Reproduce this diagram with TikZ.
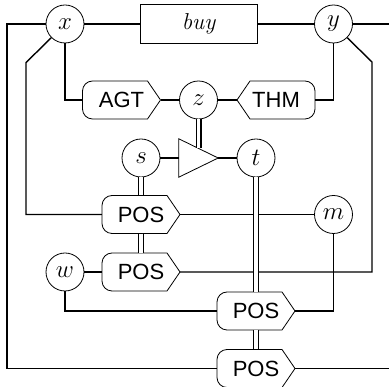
\documentclass[tikz,border=0pt]{standalone}
\usepackage{fontspec}
\newfontfamily\labfont{Liberation Sans}
\newcommand\chevR[1]{\draw[outl] ([shift={(-29,-19)}]#1.center) -- ([shift={(26,-19)}]#1.center) -- ([shift={(39,0)}]#1.center) -- ([shift={(26,19)}]#1.center) -- ([shift={(-29,19)}]#1.center) .. controls ([shift={(-34.5,19)}]#1.center) and ([shift={(-39,14.5)}]#1.center) .. ([shift={(-39,9)}]#1.center) -- ([shift={(-39,-9)}]#1.center) .. controls ([shift={(-39,-14.5)}]#1.center) and ([shift={(-34.5,-19)}]#1.center) .. ([shift={(-29,-19)}]#1.center) -- cycle;}
\newcommand\chevL[1]{\draw[outl] ([shift={(29,-19)}]#1.center) -- ([shift={(-26,-19)}]#1.center) -- ([shift={(-39,0)}]#1.center) -- ([shift={(-26,19)}]#1.center) -- ([shift={(29,19)}]#1.center) .. controls ([shift={(34.5,19)}]#1.center) and ([shift={(39,14.5)}]#1.center) .. ([shift={(39,9)}]#1.center) -- ([shift={(39,-9)}]#1.center) .. controls ([shift={(39,-14.5)}]#1.center) and ([shift={(34.5,-19)}]#1.center) .. ([shift={(29,-19)}]#1.center) -- cycle;}
\begin{document}
\begin{tikzpicture}[x=1pt,y=-1pt,
  conn/.style={line width=1.4pt},
  dbl/.style={double, double distance=3.8pt, line width=1.1pt},
  outl/.style={line width=0.8pt},
  var/.style={circle, draw, line width=0.8pt, minimum size=38pt, inner sep=0pt, font=\fontsize{25}{25}\selectfont},
  rel/.style={minimum width=78pt, minimum height=38pt, inner sep=0pt, font=\labfont\fontsize{22}{22}\selectfont},
]
\useasboundingbox (0,0) rectangle (389,387);
% nodes
\node[var] (x) at (65,24) {$x$};
\node[draw, line width=0.8pt, minimum width=117pt, minimum height=38.5pt, inner sep=0pt, font=\fontsize{23}{23}\selectfont\itshape] (buy) at (198.5,24) {buy};
\node[var] (y) at (333.5,24) {$y$};
\node[rel] (agt) at (121.5,100) {AGT};
\node[var] (z) at (198.5,100) {$z$};
\node[rel] (thm) at (276,100) {THM};
\node[var] (s) at (141,158) {$s$};
\node[minimum width=39pt, minimum height=38pt, inner sep=0pt] (tri) at (198.5,158) {};
\node[var] (t) at (256,158) {$t$};
\node[rel] (pos1) at (141,214.5) {POS};
\node[var] (m) at (333.5,214.5) {$m$};
\node[var] (w) at (65,272) {$w$};
\node[rel] (pos2) at (141,272) {POS};
\node[rel] (pos3) at (256,311) {POS};
\node[rel] (pos4) at (256,368.5) {POS};
\coordinate (tritop) at (198.5,148.5);
\coordinate (outA) at (389,24);
\coordinate (outB) at (389,368.5);
% shapes
\chevR{agt}
\chevL{thm}
\chevR{pos1}
\chevR{pos2}
\chevR{pos3}
\chevR{pos4}
\draw[outl] (tri.north west) -- (tri.east) -- (tri.south west) -- cycle;
% connectors
\draw[conn] (x) -- (buy) -- (y);
\draw[conn] (y.east) -- (outA);
\draw[conn] (y.south east) -- (372,62) |- (pos2.east);
\draw[conn] (x.west) -- (7,24) |- (pos4.west);
\draw[conn] (x.south west) -- (26,62.6) |- (pos1.west);
\draw[conn] (x.south) |- (agt.west);
\draw[conn] (agt.east) -- (z) -- (thm.west);
\draw[conn] (thm.east) -| (y.south);
\draw[conn] (s) -- (tri.west);
\draw[conn] (tri.east) -- (t);
\draw[conn] (pos1.east) -- (m.west);
\draw[conn] (m.south) |- (pos3.east);
\draw[conn] (w) -- (pos2.west);
\draw[conn] (w.south) |- (pos3.west);
\draw[conn] (pos4.east) -- (outB);
% double connectors
\draw[dbl] (z.south) -- (tritop);
\draw[dbl] (s.south) -- (pos1.north);
\draw[dbl] (pos1.south) -- (pos2.north);
\draw[dbl] (t.south) -- (pos3.north);
\draw[dbl] (pos3.south) -- (pos4.north);
\end{tikzpicture}
\end{document}
